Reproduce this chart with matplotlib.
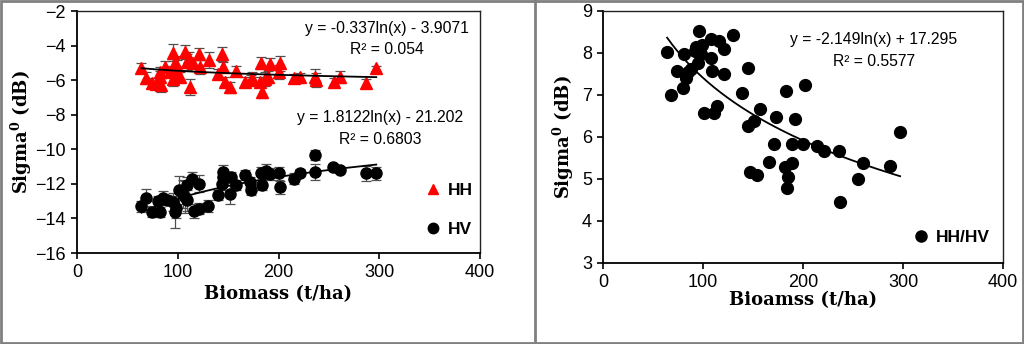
import numpy as np
import matplotlib
matplotlib.use("Agg")
import matplotlib.pyplot as plt
from matplotlib.lines import Line2D
from matplotlib.patches import Rectangle

# ---------------- data ----------------
hh_biomass = [64, 68, 74, 78, 82, 82, 83, 87, 92, 95, 95, 97, 98, 99, 102, 107, 109, 111, 112, 115,
              121, 122, 131, 140, 144, 145, 147, 152, 158, 167, 173, 174, 183, 182, 184, 187, 190,
              192, 200, 201, 215, 221, 236, 237, 255, 261, 287, 297]
hh_sigma = [-5.28, -5.86, -6.15, -6.20, -5.52, -5.81, -6.29, -5.23, -5.50, -4.42, -5.96, -5.03, -5.61,
            -5.20, -5.81, -4.36, -4.94, -4.70, -6.39, -5.03, -4.49, -5.26, -4.84, -5.65, -4.49, -5.23,
            -6.10, -6.42, -5.46, -6.10, -6.00, -5.85, -5.03, -6.10, -6.67, -5.95, -5.81, -5.07, -5.55,
            -5.03, -5.86, -5.81, -5.80, -6.00, -6.09, -5.84, -6.19, -5.32]
hh_err = [0.3, 0.35, 0.3, 0.3, 0.3, 0.35, 0.4, 0.35, 0.3, 0.5, 0.4, 0.4, 0.45, 0.35, 0.3, 0.4, 0.45,
          0.3, 0.45, 0.3, 0.35, 0.4, 0.45, 0.3, 0.4, 0.3, 0.3, 0.3, 0.3, 0.3, 0.3, 0.3, 0.35, 0.3,
          0.35, 0.4, 0.35, 0.35, 0.4, 0.45, 0.2, 0.2, 0.45, 0.4, 0.2, 0.35, 0.25, 0.15]

hv_biomass = [64, 68, 74, 80, 82, 85, 89, 95, 97, 98, 101, 105, 107, 109, 109, 114, 116, 121, 121, 130,
              140, 145, 144, 145, 152, 153, 158, 167, 172, 173, 183, 184, 188, 192, 200, 201, 215,
              221, 236, 236, 254, 261, 287, 297]
hv_sigma = [-13.30, -12.80, -13.63, -12.99, -13.63, -12.80, -12.93, -13.05, -13.63, -13.40, -12.37,
            -12.60, -12.76, -12.08, -12.95, -11.69, -13.59, -13.43, -11.98, -13.28, -12.66, -11.31,
            -11.98, -11.60, -12.56, -11.60, -12.08, -11.50, -11.89, -12.37, -11.40, -12.05, -11.25,
            -11.44, -11.40, -12.21, -11.69, -11.35, -11.31, -10.34, -11.02, -11.17, -11.40, -11.40]
hv_err = [0.3, 0.5, 0.3, 0.3, 0.3, 0.4, 0.3, 0.5, 0.95, 0.6, 0.8, 0.8, 0.9, 0.5, 0.6, 0.4, 0.4, 0.3,
          0.5, 0.35, 0.3, 0.4, 0.4, 0.35, 0.6, 0.3, 0.3, 0.3, 0.3, 0.3, 0.4, 0.3, 0.4, 0.35, 0.4,
          0.4, 0.3, 0.2, 0.45, 0.3, 0.15, 0.15, 0.45, 0.35]

ratio_biomass = [64, 68, 74, 81, 80, 83, 85, 88, 96, 93, 95, 98, 99, 92, 101, 108, 108, 109, 111, 114,
                 116, 121, 121, 130, 139, 145, 145, 147, 151, 154, 157, 166, 171, 173, 182, 183, 185,
                 184, 189, 189, 192, 200, 202, 214, 221, 237, 236, 255, 260, 287, 297]
ratio_sigma = [8.01, 6.99, 7.57, 7.96, 7.17, 7.39, 7.55, 7.62, 8.52, 8.14, 7.75, 7.98, 8.18, 8.05, 6.57,
               8.32, 7.87, 7.57, 6.56, 6.74, 8.29, 8.10, 7.49, 8.42, 7.03, 7.63, 6.26, 5.17, 6.38, 5.09,
               6.67, 5.39, 5.83, 6.48, 5.29, 7.10, 5.05, 4.77, 5.83, 5.38, 6.41, 5.83, 7.23, 5.79, 5.66,
               4.45, 5.66, 4.99, 5.38, 5.30, 6.12]

# trend-line equations shown on the chart: y = a*ln(x) + b
hh_fit = (-0.337, -3.9071)
hv_fit = (1.8122, -21.202)
ratio_fit = (-2.149, 17.295)

# ---------------- style ----------------
plt.rcParams['font.family'] = ['Liberation Sans', 'DejaVu Sans']
plt.rcParams['mathtext.fontset'] = 'dejavuserif'
label_font = dict(family='DejaVu Serif', weight='bold', size=13)
tick_size = 13
eq_size = 11.3

fig = plt.figure(figsize=(10.24, 3.44), dpi=100)
axL = fig.add_axes([0.0752, 0.2645, 0.3936, 0.7035])
axR = fig.add_axes([0.589, 0.2363, 0.3906, 0.7326])


def style_axes(ax):
    for s in ('top', 'right'):
        ax.spines[s].set_linewidth(1.0)
        ax.spines[s].set_color('#222222')
    for s in ('left', 'bottom'):
        ax.spines[s].set_linewidth(1.3)
        ax.spines[s].set_color('black')
    ax.tick_params(direction='out', length=4, width=1.2, labelsize=tick_size, colors='black', pad=4)


def trend(ax, xs, fit):
    xx = np.linspace(min(xs), max(xs), 200)
    ax.plot(xx, fit[0] * np.log(xx) + fit[1], color='black', lw=1.3, zorder=4)


# ---- left panel ----
style_axes(axL)
axL.errorbar(hh_biomass, hh_sigma, yerr=hh_err, fmt='^', color='#ff0000', ms=8.5,
             mec='#ff0000', ecolor='#505050', elinewidth=0.9, capsize=3.5, capthick=0.9, zorder=3)
axL.errorbar(hv_biomass, hv_sigma, yerr=hv_err, fmt='o', color='black', ms=8,
             ecolor='#505050', elinewidth=0.9, capsize=3.5, capthick=0.9, zorder=3)
trend(axL, hh_biomass, hh_fit)
trend(axL, hv_biomass, hv_fit)
axL.set_xlim(0, 400)
axL.set_ylim(-16, -2)
axL.set_xticks([0, 100, 200, 300, 400])
axL.set_yticks(np.arange(-16, -1, 2))
axL.set_xlabel('Biomass (t/ha)', fontdict=label_font, labelpad=3)
axL.set_ylabel(r'Sigma$^{\mathbf{0}}$ (dB)', fontdict=label_font, labelpad=1)
axL.text(0.769, 0.926, 'y = -0.337ln(x) - 3.9071', transform=axL.transAxes, ha='center', va='center', size=eq_size)
axL.text(0.769, 0.839, 'R² = 0.054', transform=axL.transAxes, ha='center', va='center', size=eq_size)
axL.text(0.752, 0.558, 'y = 1.8122ln(x) - 21.202', transform=axL.transAxes, ha='center', va='center', size=eq_size)
axL.text(0.752, 0.471, 'R² = 0.6803', transform=axL.transAxes, ha='center', va='center', size=eq_size)
hL = [Line2D([], [], ls='none', marker='^', color='#ff0000', ms=7),
      Line2D([], [], ls='none', marker='o', color='black', ms=7.5)]
axL.legend(hL, ['HH', 'HV'], loc='lower left', bbox_to_anchor=(0.84, 0.03), frameon=False,
           prop=dict(weight='bold', size=12.5), handlelength=1, handletextpad=0.35, borderpad=0,
           labelspacing=1.4)

# ---- right panel ----
style_axes(axR)
axR.plot(ratio_biomass, ratio_sigma, 'o', color='black', ms=8.5, ls='none', zorder=3)
trend(axR, ratio_biomass, ratio_fit)
axR.set_xlim(0, 400)
axR.set_ylim(3, 9)
axR.set_xticks([0, 100, 200, 300, 400])
axR.set_yticks(np.arange(3, 10, 1))
axR.set_xlabel('Bioamss (t/ha)', fontdict=label_font, labelpad=0)
axR.set_ylabel(r'Sigma$^{\mathbf{0}}$ (dB)', fontdict=label_font, labelpad=4)
axR.text(0.677, 0.884, 'y = -2.149ln(x) + 17.295', transform=axR.transAxes, ha='center', va='center', size=eq_size)
axR.text(0.677, 0.80, 'R² = 0.5577', transform=axR.transAxes, ha='center', va='center', size=eq_size)
hR = [Line2D([], [], ls='none', marker='o', color='black', ms=8)]
axR.legend(hR, ['HH/HV'], loc='lower left', bbox_to_anchor=(0.752, 0.035), frameon=False,
           prop=dict(weight='bold', size=12.5), handlelength=1, handletextpad=0.35, borderpad=0)

# ---- outer frame and separator ----
fig.add_artist(Rectangle((0.001, 0.002), 0.998, 0.995, fill=False, edgecolor='#808080', lw=2,
                         transform=fig.transFigure))
fig.add_artist(Line2D([0.5225, 0.5225], [0, 1], color='#808080', lw=2, transform=fig.transFigure))

fig.savefig('out.png', dpi=100)
